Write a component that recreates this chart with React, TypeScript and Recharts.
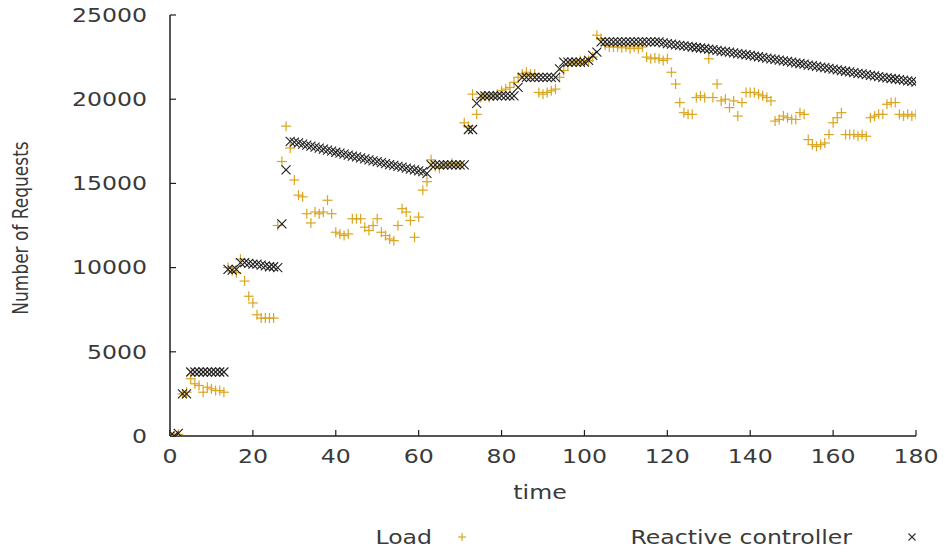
import { ScatterChart, Scatter, XAxis, YAxis } from "recharts"

// time steps (one sample per time unit)
const times = Array.from({ length: 181 }, (_, i) => i)

const load = [
  0, 0, 100, 2500, 2600, 3400, 3100, 3000, 2600, 2900,
  2800, 2700, 2700, 2600, 10000, 9800, 9700, 10500, 9200, 8300,
  7900, 7200, 7000, 7000, 7000, 7000, 12500, 16300, 18400, 17100,
  15200, 14300, 14200, 13200, 12650, 13300, 13200, 13300, 14000, 13200,
  12100, 12000, 11900, 12000, 12900, 12900, 12900, 12400, 12200, 12500,
  12900, 12100, 11900, 11700, 11600, 12500, 13500, 13300, 12800, 11800,
  13000, 14600, 15100, 16400, 16000, 15900, 16100, 16100, 16200, 16100,
  16100, 18600, 18400, 20300, 19100, 20100, 20200, 20100, 20200, 20300,
  20500, 20600, 20700, 21000, 21300, 21500, 21600, 21500, 21500, 20400,
  20300, 20400, 20500, 20600, 21300, 21700, 22000, 22200, 22200, 22300,
  22200, 22300, 22500, 23800, 23600, 23200, 23100, 23100, 23100, 23050,
  23100, 23000, 23100, 23000, 23100, 22500, 22400, 22450, 22400, 22300,
  22400, 21600, 20900, 19800, 19200, 19100, 19100, 20100, 20200, 20100,
  22400, 20100, 20900, 19900, 20000, 19500, 19900, 19000, 19800, 20400,
  20400, 20400, 20300, 20200, 20100, 19900, 18700, 18800, 19000, 18900,
  18800, 18800, 19200, 19100, 17600, 17300, 17200, 17300, 17400, 17900,
  18600, 18900, 19200, 17900, 17900, 17900, 17800, 17900, 17800, 18900,
  19000, 19100, 19100, 19700, 19800, 19800, 19100, 19000, 19100, 19000,
  19100,
]

const reactive = [
  0, 0, 150, 2500, 2500, 3800, 3800, 3800, 3800, 3800,
  3800, 3800, 3800, 3800, 9900, 9850, 9900, 10300, 10300, 10250,
  10200, 10200, 10150, 10100, 10050, 10050, 10000, 12600, 15800, 17500,
  17450, 17400, 17330, 17270, 17210, 17150, 17090, 17030, 16970, 16910,
  16850, 16800, 16740, 16680, 16620, 16570, 16510, 16450, 16400, 16340,
  16290, 16230, 16180, 16120, 16070, 16010, 15960, 15910, 15850, 15800,
  15750, 15700, 15600, 16100, 16100, 16100, 16100, 16100, 16100, 16100,
  16100, 16100, 18200, 18200, 19750, 20200, 20200, 20200, 20200, 20200,
  20200, 20200, 20200, 20200, 20700, 21300, 21300, 21300, 21300, 21300,
  21300, 21300, 21300, 21300, 21800, 22200, 22200, 22200, 22200, 22200,
  22200, 22300, 22600, 22800, 23400, 23400, 23400, 23400, 23400, 23400,
  23400, 23400, 23400, 23400, 23400, 23400, 23400, 23400, 23400, 23350,
  23300, 23270, 23230, 23200, 23170, 23140, 23100, 23070, 23040, 23010,
  22980, 22940, 22900, 22860, 22820, 22790, 22750, 22710, 22680, 22640,
  22600, 22560, 22520, 22480, 22440, 22400, 22360, 22320, 22280, 22240,
  22200, 22160, 22120, 22080, 22030, 21990, 21950, 21910, 21870, 21830,
  21780, 21740, 21700, 21660, 21620, 21580, 21540, 21500, 21460, 21420,
  21380, 21340, 21300, 21270, 21230, 21200, 21160, 21130, 21090, 21060,
  21020,
]

const xTicks = [0, 20, 40, 60, 80, 100, 120, 140, 160, 180]
const yTicks = [0, 5000, 10000, 15000, 20000, 25000]
const seriesNames = ["Load", "Reactive controller"]

const loadRows = times.map((t, i) => ({ t, v: load[i] }))
const reactiveRows = times.map((t, i) => ({ t, v: reactive[i] }))

const FONT = "DejaVu Sans"
const TEXT = "#3a3a3a"
const GOLD = "#daa520"
const INK = "#1e1e1e"
const SX = 1.18 // the original text is stretched horizontally

function Plus({ cx, cy, r = 5 }: any) {
  if (cx == null || cy == null) return null
  return (
    <g stroke={GOLD} strokeWidth={1.2}>
      <line x1={cx - r} y1={cy} x2={cx + r} y2={cy} />
      <line x1={cx} y1={cy - r} x2={cx} y2={cy + r} />
    </g>
  )
}

function Cross({ cx, cy, r = 4.5, color = INK }: any) {
  if (cx == null || cy == null) return null
  return (
    <g stroke={color} strokeWidth={1.1}>
      <line x1={cx - r} y1={cy - r} x2={cx + r} y2={cy + r} />
      <line x1={cx - r} y1={cy + r} x2={cx + r} y2={cy - r} />
    </g>
  )
}

function XTick({ x, y, payload }: any) {
  return (
    <text transform={`translate(${x},${y}) scale(${SX},1)`} textAnchor="middle" dominantBaseline="central"
      fontFamily={FONT} fontSize={20} fill={TEXT}>
      {payload.value}
    </text>
  )
}

function YTick({ x, y, payload }: any) {
  return (
    <text transform={`translate(${x},${y}) scale(${SX},1)`} textAnchor="end" dominantBaseline="central"
      fontFamily={FONT} fontSize={20} fill={TEXT}>
      {payload.value}
    </text>
  )
}

const axisLine = { stroke: INK, strokeWidth: 1.5 }
const tickLine = { stroke: INK, strokeWidth: 1.2 }

export default function App() {
  return (
    <div style={{ position: "absolute", left: 0, top: 0, width: 945, height: 554, background: "#fff" }}>
      <ScatterChart width={945} height={554} margin={{ top: 15, right: 29, bottom: 78, left: 90 }}>
        <XAxis dataKey="t" type="number" domain={[0, 180]} ticks={xTicks} allowDataOverflow
          height={40} tickSize={-6} tickMargin={26} tick={<XTick />} axisLine={axisLine} tickLine={tickLine} />
        <XAxis xAxisId="top" orientation="top" dataKey="t" type="number" domain={[0, 180]} ticks={xTicks}
          height={0} tickSize={-6} tick={false} axisLine={axisLine} tickLine={tickLine} />
        <YAxis dataKey="v" type="number" domain={[0, 25000]} ticks={yTicks} allowDataOverflow
          width={80} tickSize={-6} tickMargin={29} tick={<YTick />} axisLine={axisLine} tickLine={tickLine} />
        <YAxis yAxisId="right" orientation="right" dataKey="v" type="number" domain={[0, 25000]} ticks={yTicks}
          width={0} tickSize={-6} tick={false} axisLine={axisLine} tickLine={tickLine} />
        <Scatter name={seriesNames[0]} data={loadRows} isAnimationActive={false}
          shape={(p: any) => <Plus cx={p.cx} cy={p.cy} />} />
        <Scatter name={seriesNames[1]} data={reactiveRows} isAnimationActive={false}
          shape={(p: any) => <Cross cx={p.cx} cy={p.cy} />} />
      </ScatterChart>

      {/* axis titles and gnuplot-style key */}
      <svg width={945} height={554} style={{ position: "absolute", left: 0, top: 0, pointerEvents: "none" }}>
        <text transform="translate(21,228) rotate(-90) scale(1,1.2)" textAnchor="middle" dominantBaseline="central"
          fontFamily={FONT} fontSize={17} fill={TEXT}>
          Number of Requests
        </text>
        <text transform={`translate(540,492) scale(${SX},1)`} textAnchor="middle" dominantBaseline="central"
          fontFamily={FONT} fontSize={20} fill={TEXT}>
          time
        </text>
        <text transform={`translate(432,537) scale(${SX},1)`} textAnchor="end" dominantBaseline="central"
          fontFamily={FONT} fontSize={20} fill={TEXT}>
          {seriesNames[0]}
        </text>
        <Plus cx={462} cy={537} r={4} />
        <text transform={`translate(852,537) scale(${SX},1)`} textAnchor="end" dominantBaseline="central"
          fontFamily={FONT} fontSize={20} fill={TEXT}>
          {seriesNames[1]}
        </text>
        <Cross cx={912} cy={537} r={3.5} color="#333" />
      </svg>
    </div>
  )
}
